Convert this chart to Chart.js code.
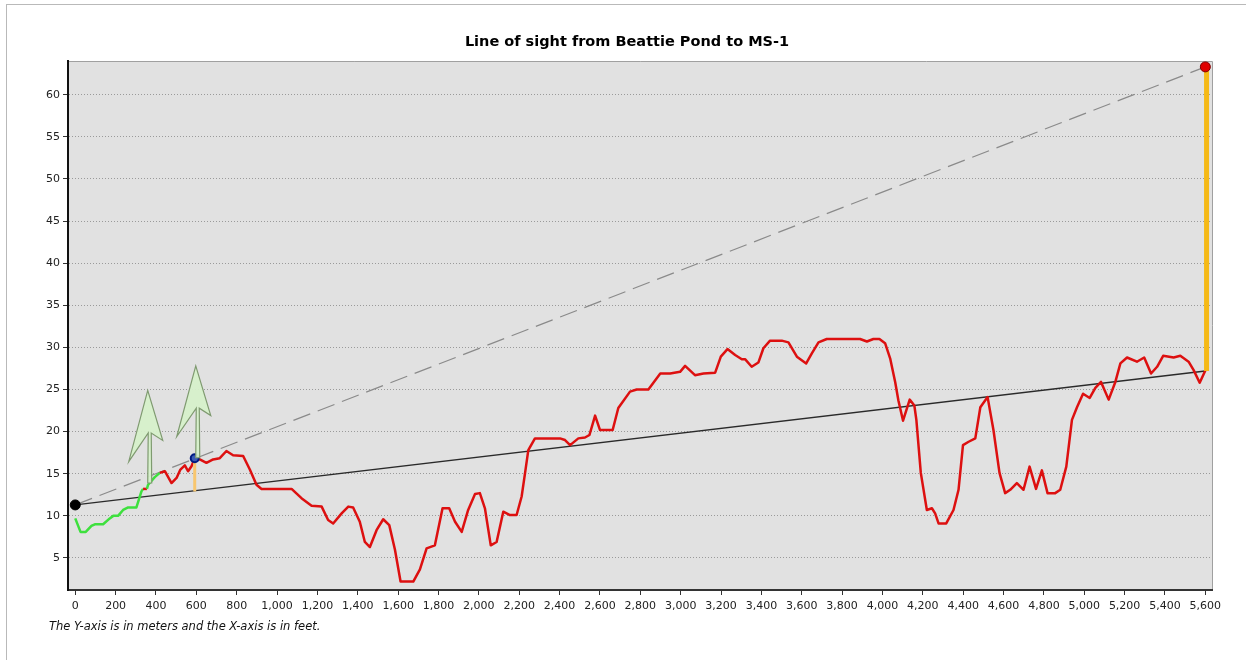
<!DOCTYPE html>
<html>
<head>
<meta charset="utf-8">
<script src="https://cdn.jsdelivr.net/npm/chart.js@4.4.0/dist/chart.umd.min.js"></script>
<style>
    html, body { margin: 0; padding: 0; background: #fff; }
    body { width: 1246px; height: 660px; overflow: hidden; position: relative; }
    #frame { position: absolute; left: 6px; top: 4px; width: 1260px; height: 700px; border: 1px solid #b9b9b9; }
    #wrap { position: absolute; left: 0; top: 0; width: 1246px; height: 660px; }
</style>
</head>
<body>
<div id="frame"></div>
<div id="wrap"><canvas id="los-chart"></canvas></div>
<script>
// Terrain profile (distance in feet, elevation in meters)
const profileFt = [
    0, 26, 52, 80, 97, 138, 171, 188, 212, 237, 262, 303, 328, 336, 355, 361, 394, 419,
    444, 477, 502, 521, 543, 559, 576, 592, 617, 650, 683, 716, 749, 782, 832, 865, 898,
    923, 1072, 1121, 1171, 1221, 1253, 1278, 1320, 1353, 1377, 1410, 1435, 1460, 1493,
    1526, 1556, 1584, 1612, 1675, 1708, 1741, 1782, 1820, 1853, 1882, 1915, 1947, 1981,
    2005, 2030, 2059, 2088, 2121, 2154, 2187, 2212, 2229, 2245, 2278, 2402, 2427, 2452,
    2493, 2526, 2548, 2576, 2600, 2663, 2691, 2749, 2782, 2840, 2899, 2948, 2997, 3022,
    3071, 3113, 3171, 3199, 3232, 3270, 3303, 3319, 3352, 3385, 3410, 3443, 3501, 3534,
    3576, 3622, 3650, 3683, 3724, 3889, 3923, 3955, 3985, 4013, 4038, 4063, 4079, 4102,
    4135, 4158, 4168, 4190, 4220, 4245, 4261, 4278, 4316, 4352, 4377, 4399, 4427, 4460,
    4485, 4521, 4550, 4580, 4608, 4633, 4666, 4699, 4729, 4761, 4790, 4818, 4856, 4881,
    4911, 4939, 4964, 4994, 5027, 5055, 5083, 5121, 5154, 5179, 5212, 5261, 5297, 5331,
    5361, 5391, 5443, 5476, 5517, 5542, 5572, 5600
];
const profileM = [
    9.7, 8.1, 8.1, 8.8, 9.0, 9.0, 9.7, 10.0, 10.0, 10.7, 11.0, 11.0, 12.9, 13.2, 13.2, 13.7, 14.6, 15.1,
    15.3, 13.9, 14.5, 15.5, 16.0, 15.3, 15.9, 16.85, 16.7, 16.3, 16.7, 16.85, 17.7, 17.2, 17.1, 15.5, 13.7,
    13.2, 13.2, 12.1, 11.2, 11.1, 9.5, 9.1, 10.3, 11.1, 11.0, 9.3, 6.9, 6.3, 8.3,
    9.6, 8.9, 6.0, 2.2, 2.2, 3.65, 6.15, 6.5, 10.9, 10.9, 9.3, 8.1, 10.7, 12.6,
    12.7, 10.9, 6.5, 6.9, 10.5, 10.1, 10.1, 12.3, 15.1, 17.8, 19.2, 19.2, 19.0, 18.4,
    19.2, 19.3, 19.6, 21.9, 20.2, 20.2, 22.8, 24.75, 25.0, 25.0, 26.9, 26.9, 27.1, 27.8,
    26.7, 26.9, 27.0, 28.9, 29.8, 29.1, 28.6, 28.6, 27.7, 28.2, 29.9, 30.8, 30.8, 30.6,
    28.9, 28.1, 29.3, 30.6, 31.0, 31.0, 30.7, 31.0, 31.0, 30.5, 28.7, 25.9, 23.7, 21.3,
    23.8, 23.1, 21.4, 15.1, 10.7, 10.9, 10.3, 9.1, 9.1, 10.7, 13.1, 18.4, 18.8, 19.2,
    22.9, 24.1, 20.2, 15.1, 12.7, 13.1, 13.9, 13.1, 15.85, 13.2, 15.4, 12.7, 12.7, 13.1,
    15.85, 21.4, 22.9, 24.5, 24.0, 25.2, 25.9, 23.8, 25.9, 28.1, 28.8, 28.3, 28.8, 26.9,
    27.7, 29.0, 28.8, 29.0, 28.3, 27.3, 25.8, 27.25
];
// Stretches of the profile that are visible from the observer
const visibleRanges = [[0, 336], [355, 419]];

// Sight lines
const sightFt = [0, 5600];
const sightM = [11.3, 27.2];      // ground-to-ground line
const rayM = [11.3, 63.3];        // observer to target top

// Markers
const observerFt = [0];
const observerM = [11.3];
const targetFt = [5600];
const targetM = [63.3];
const obstructionFt = [592];
const obstructionM = [16.85];
const obstructionBarM = [12.9, 16.85];
const targetBarM = [27.2, 63.3];

// Trees
const treeFt = [369, 607];
const treeBaseM = [13.9, 16.9];
const treeTopM = [24.9, 27.8];

// Axes
const xTicks = [0, 200, 400, 600, 800, 1000, 1200, 1400, 1600, 1800, 2000, 2200, 2400, 2600, 2800,
    3000, 3200, 3400, 3600, 3800, 4000, 4200, 4400, 4600, 4800, 5000, 5200, 5400, 5600];
const yTicks = [5, 10, 15, 20, 25, 30, 35, 40, 45, 50, 55, 60];
const xMin = -36, xMax = 5633;
const yMin = 1.2, yMax = 64;

const chartTitle = 'Line of sight from Beattie Pond to MS-1';
const chartNote = 'The Y-axis is in meters and the X-axis is in feet.';

const pts = (xs, ys) => ys.map((y, i) => ({ x: xs[Math.min(i, xs.length - 1)], y }));

function isVisible(a, b) {
    return visibleRanges.some(([lo, hi]) => a >= lo && b <= hi);
}

// Plot background and frame
const plotBackground = {
    id: 'plotBackground',
    beforeDraw(chart) {
        const { ctx, chartArea: a } = chart;
        ctx.save();
        ctx.fillStyle = '#e1e1e1';
        ctx.fillRect(a.left, a.top, a.right - a.left, a.bottom - a.top);
        ctx.strokeStyle = '#a0a0a0';
        ctx.lineWidth = 1;
        ctx.beginPath();
        ctx.moveTo(a.left, a.top + 0.5);
        ctx.lineTo(a.right + 0.5, a.top + 0.5);
        ctx.lineTo(a.right + 0.5, a.bottom);
        ctx.stroke();
        ctx.restore();
    }
};

// Tree symbols
const trees = {
    id: 'trees',
    afterDatasetsDraw(chart) {
        const { ctx, scales: { x, y } } = chart;
        ctx.save();
        treeFt.forEach((ft, i) => {
            const cx = x.getPixelForValue(ft);
            const by = y.getPixelForValue(treeBaseM[i]);
            const ty = y.getPixelForValue(treeTopM[i]);
            const h = by - ty;
            ctx.beginPath();
            ctx.moveTo(cx - 2, ty);
            ctx.lineTo(cx + 13, ty + 0.54 * h);
            ctx.lineTo(cx + 1.5, ty + 0.46 * h);
            ctx.lineTo(cx + 2, by);
            ctx.lineTo(cx - 2, by);
            ctx.lineTo(cx - 1.5, ty + 0.46 * h);
            ctx.lineTo(cx - 21, ty + 0.77 * h);
            ctx.closePath();
            ctx.fillStyle = 'rgba(214, 240, 202, 0.95)';
            ctx.fill();
            ctx.strokeStyle = '#7f9a70';
            ctx.lineWidth = 1.2;
            ctx.stroke();
        });
        ctx.restore();
    }
};

// Title and caption
const texts = {
    id: 'texts',
    afterDraw(chart) {
        const { ctx } = chart;
        ctx.save();
        ctx.fillStyle = '#000';
        ctx.textBaseline = 'middle';
        ctx.textAlign = 'center';
        ctx.font = 'bold 14.5px "DejaVu Sans", Verdana, sans-serif';
        ctx.fillText(chartTitle, 627, 42);
        ctx.textAlign = 'left';
        ctx.fillStyle = '#111';
        ctx.font = 'italic 11.5px "DejaVu Sans", Verdana, sans-serif';
        ctx.fillText(chartNote, 49, 627);
        ctx.restore();
    }
};

const lineBase = { pointRadius: 0, fill: false, tension: 0 };

new Chart(document.getElementById('los-chart'), {
    type: 'line',
    data: {
        datasets: [
            { ...lineBase, data: pts(observerFt, observerM), showLine: false, pointRadius: 5,
              pointBackgroundColor: '#000', pointBorderColor: '#000' },
            { ...lineBase, data: pts(targetFt, targetM), showLine: false, pointRadius: 5,
              pointBackgroundColor: '#e00000', pointBorderColor: '#800000', pointBorderWidth: 1 },
            { ...lineBase, data: pts(obstructionFt, obstructionM), showLine: false, pointRadius: 4,
              pointBackgroundColor: '#3b5bb5', pointBorderColor: '#001a80', pointBorderWidth: 2 },
            { ...lineBase, data: pts([targetFt[0] + 6], targetBarM), borderColor: '#f5b916', borderWidth: 5,
              borderCapStyle: 'butt' },
            { ...lineBase, data: pts(obstructionFt, obstructionBarM), borderColor: '#f8c66e', borderWidth: 3,
              borderCapStyle: 'butt' },
            { ...lineBase, data: pts(profileFt, profileM), borderColor: '#dd1010', borderWidth: 2.5,
              borderJoinStyle: 'round',
              segment: {
                  borderColor: c => isVisible(profileFt[c.p0DataIndex], profileFt[c.p1DataIndex]) ? '#3ee03e' : '#dd1010'
              } },
            { ...lineBase, data: pts(sightFt, sightM), borderColor: '#2a2a2a', borderWidth: 1.4 },
            { ...lineBase, data: pts(sightFt, rayM), borderColor: '#8a8a8a', borderWidth: 1.2,
              borderDash: [18, 8] }
        ]
    },
    options: {
        responsive: true,
        maintainAspectRatio: false,
        animation: false,
        layout: { padding: { top: 61, left: 0, right: 34, bottom: 40 } },
        plugins: {
            legend: { display: false },
            tooltip: { enabled: false },
            title: { display: false }
        },
        scales: {
            x: {
                type: 'linear',
                min: xMin,
                max: xMax,
                afterFit: s => { s.height = 30; },
                afterBuildTicks: s => { s.ticks = xTicks.map(v => ({ value: v })); },
                grid: { drawOnChartArea: false, tickLength: 5, tickColor: '#333' },
                border: { color: '#333', width: 2 },
                ticks: {
                    autoSkip: false, maxRotation: 0, padding: 5, color: '#222',
                    font: { family: '"DejaVu Sans", Verdana, sans-serif', size: 11 },
                    callback: v => v.toLocaleString('en-US')
                }
            },
            y: {
                type: 'linear',
                min: yMin,
                max: yMax,
                afterFit: s => { s.width = 68; },
                afterBuildTicks: s => { s.ticks = yTicks.map(v => ({ value: v })); },
                grid: { color: '#9a9a9a', lineWidth: 1, tickLength: 5, tickColor: '#333', tickBorderDash: [] },
                border: { color: '#111', width: 2, dash: [1, 2] },
                ticks: {
                    padding: 3, color: '#222',
                    font: { family: '"DejaVu Sans", Verdana, sans-serif', size: 11 }
                }
            }
        }
    },
    plugins: [plotBackground, trees, texts]
});
</script>
</body>
</html>
